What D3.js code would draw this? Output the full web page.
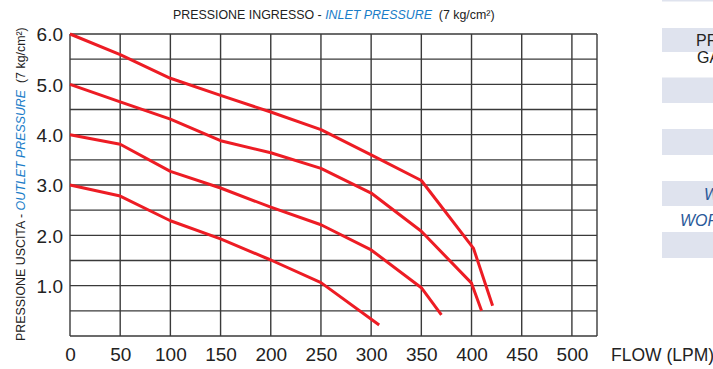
<!DOCTYPE html>
<html>
<head>
<meta charset="utf-8">
<script src="https://cdn.jsdelivr.net/npm/d3@7"></script>
<style>
  html, body { margin: 0; padding: 0; background: #fff; }
  svg { display: block; }
  text { font-family: "Liberation Sans Narrow", "Arial Narrow", "Liberation Sans", Arial, sans-serif; }
</style>
</head>
<body>
<script>
// ---- data ----
const xTicks = [0, 50, 100, 150, 200, 250, 300, 350, 400, 450, 500];
const yTicks = [1.0, 2.0, 3.0, 4.0, 5.0, 6.0];
const curveNames = ["6.0", "5.0", "4.0", "3.0"];
const flow60 = [0, 50, 100, 150, 200, 250, 300, 350, 402, 421];
const press60 = [6.0, 5.59, 5.12, 4.78, 4.45, 4.1, 3.6, 3.09, 1.74, 0.6];
const flow50 = [0, 50, 100, 150, 200, 250, 300, 350, 400, 410];
const press50 = [5.0, 4.65, 4.31, 3.88, 3.64, 3.33, 2.84, 2.08, 1.05, 0.5];
const flow40 = [0, 50, 100, 150, 200, 250, 300, 350, 370];
const press40 = [4.0, 3.81, 3.27, 2.94, 2.56, 2.21, 1.71, 0.96, 0.42];
const flow30 = [0, 50, 100, 150, 200, 250, 308];
const press30 = [3.0, 2.78, 2.29, 1.93, 1.51, 1.06, 0.22];

const curves = [
  flow60.map((f, i) => [f, press60[i]]),
  flow50.map((f, i) => [f, press50[i]]),
  flow40.map((f, i) => [f, press40[i]]),
  flow30.map((f, i) => [f, press30[i]])
];

const W = 713, H = 369;
const svg = d3.select("body").append("svg").attr("width", W).attr("height", H);

const x = d3.scaleLinear().domain([0, 525]).range([70, 597]);
const y = d3.scaleLinear().domain([0, 6]).range([336, 34]);

// side panel fragments
const panelRects = [[0, 1.5], [28, 52], [77.5, 103], [129, 155], [181, 206], [232, 258]];
svg.selectAll("rect.panel").data(panelRects).enter().append("rect")
  .attr("x", 662).attr("y", d => d[0]).attr("width", 60).attr("height", d => d[1] - d[0])
  .attr("fill", "#dfe3ee");
svg.append("text").attr("x", 696).attr("y", 46).attr("font-size", 16).attr("fill", "#222").text("PR");
svg.append("text").attr("x", 697).attr("y", 62.5).attr("font-size", 16).attr("fill", "#222").text("GA");
svg.append("text").attr("x", 704).attr("y", 200).attr("font-size", 16).attr("font-style", "italic").attr("fill", "#2b5a9a").text("W");
svg.append("text").attr("x", 680).attr("y", 226).attr("font-size", 16).attr("font-style", "italic").attr("fill", "#2b5a9a").text("WOR");

// grid
const gridX = d3.range(0, 526, 50).concat([525]);
const gridY = d3.range(0, 6.01, 0.5);
const g = svg.append("g");
g.selectAll("line.gx").data(gridX).enter().append("line")
  .attr("x1", d => x(d)).attr("x2", d => x(d))
  .attr("y1", y(0)).attr("y2", y(6))
  .attr("stroke", "#3a3a3a").attr("stroke-width", 1.4);
g.selectAll("line.gy").data(gridY).enter().append("line")
  .attr("x1", x(0)).attr("x2", x(525))
  .attr("y1", d => y(d)).attr("y2", d => y(d))
  .attr("stroke", "#3a3a3a").attr("stroke-width", 1.4);

// axes (labels only)
const xAxis = d3.axisBottom(x).tickValues(xTicks).tickSize(0).tickPadding(0).tickFormat(d3.format("d"));
const gx = svg.append("g").attr("transform", `translate(0,${y(0)})`).call(xAxis);
gx.select(".domain").remove();
gx.selectAll("text").attr("font-size", 19).attr("fill", "#222").attr("dy", null).attr("y", 25);

const yAxis = d3.axisLeft(y).tickValues(yTicks).tickSize(0).tickPadding(0).tickFormat(d3.format(".1f"));
const gy = svg.append("g").attr("transform", `translate(63,0)`).call(yAxis);
gy.select(".domain").remove();
gy.selectAll("text").attr("font-size", 19).attr("fill", "#222").attr("dy", "0.36em").attr("x", 0);

// curves
const line = d3.line().x(d => x(d[0])).y(d => y(d[1]));
svg.selectAll("path.curve").data(curves).enter().append("path")
  .attr("d", line).attr("fill", "none").attr("stroke", "#ed1c24")
  .attr("stroke-width", 3).attr("stroke-linejoin", "round");

// titles
const title = svg.append("text").attr("x", 173).attr("y", 18.5).attr("font-size", 12.4).attr("fill", "#222");
title.append("tspan").text("PRESSIONE INGRESSO - ");
title.append("tspan").attr("fill", "#1a7dc8").attr("font-style", "italic").text("INLET PRESSURE");
title.append("tspan").text("\u00a0\u00a0(7 kg/cm\u00b2)");

const yl = svg.append("text").attr("transform", "translate(25,341) rotate(-90)").attr("font-size", 12.4).attr("fill", "#222");
yl.append("tspan").text("PRESSIONE USCITA - ");
yl.append("tspan").attr("fill", "#1a7dc8").attr("font-style", "italic").text("OUTLET PRESSURE");
yl.append("tspan").text("\u00a0\u00a0(7 kg/cm\u00b2)");

svg.append("text").attr("x", 611).attr("y", 361).attr("font-size", 17.5).attr("fill", "#222").text("FLOW (LPM)");
</script>
</body>
</html>
